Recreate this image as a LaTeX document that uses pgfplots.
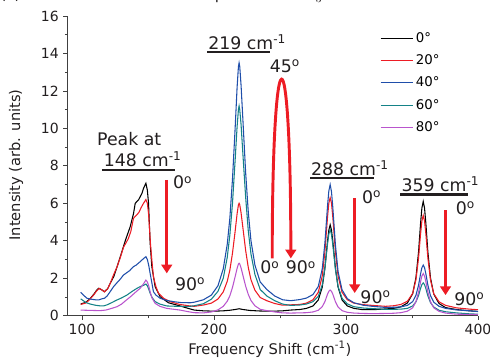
\documentclass[border=0pt]{standalone}
\usepackage{fontspec}
\setmainfont{DejaVu Sans}
\usepackage{pgfplots}
\pgfplotsset{compat=1.18}
\usetikzlibrary{arrows.meta}
\definecolor{cblue}{RGB}{31,78,170}
\definecolor{cteal}{RGB}{20,130,135}
\definecolor{cpurple}{RGB}{185,85,205}
\definecolor{cred}{RGB}{237,28,36}
\definecolor{axgray}{RGB}{64,64,64}
\definecolor{txt}{RGB}{35,31,32}

\begin{document}
\begin{tikzpicture}[
  redarr/.style={cred, line width=2.2pt, -{Triangle[length=6.5pt,width=8pt]}},
  ann/.style={font=\fontsize{13}{15}\selectfont, text=txt, inner sep=0pt},
  uline/.style={txt, line width=1.7pt}
]
\begin{axis}[
  name=ax,
  scale only axis, width=307.875pt, height=224.775pt,
  xmin=89, xmax=400, ymin=0, ymax=16,
  axis x line*=bottom, axis y line*=left,
  axis line style={axgray, line width=0.6pt},
  tick align=outside, major tick length=3pt, minor tick length=2pt,
  tick style={axgray, line width=0.6pt},
  xtick={100,200,300,400}, minor xtick={150,250,350},
  ytick={0,2,...,16}, minor ytick={1,3,...,15},
  tick label style={font=\fontsize{10.5}{12}\selectfont, text=txt},
  /pgf/number format/assume math mode=true,
  xlabel={Frequency Shift (cm\textsuperscript{-1})},
  ylabel={Intensity (arb. units)},
  label style={font=\fontsize{11}{13}\selectfont, text=txt},
  xlabel style={at={(axis description cs:0.493,-0.128)}, anchor=base},
  ylabel style={at={(axis description cs:-0.1255,0.503)}, anchor=center},
  clip=false,
  legend style={at={(0.761,0.955)}, anchor=north west, draw=none, fill=none,
    inner sep=0pt, row sep=3.8pt, font=\fontsize{10}{12}\selectfont},
  legend cell align=left,
  legend image code/.code={\draw[#1] (0pt,0pt) -- (24pt,0pt);},
  every axis plot/.append style={line width=0.8pt},
]
\addplot[black] coordinates {
(99,0.62) (103,0.72) (106,0.9) (109,1.15) (111,1.35) (112.6,1.46) (114.5,1.4) (117,1.28)
(119.5,1.45) (121.5,1.75) (124,2.08) (126.5,2.6) (129,3.15) (131,3.6) (133,4.05) (136.5,4.75)
(139,5.45) (140.3,6.0) (142.8,6.18) (145.4,6.53) (146.6,6.8) (148.4,7.07) (149.5,6.7) (150.4,6.0)
(151.6,3.9) (152.9,2.62) (155.4,1.55) (159.2,1.01) (165.5,0.69) (174.3,0.52) (180,0.4) (185,0.3)
(192,0.26) (200,0.24) (207,0.26) (212,0.29) (216,0.33) (219,0.37) (222,0.33) (227,0.28)
(235,0.25) (245,0.24) (252,0.26) (258,0.3) (265,0.33) (270,0.39) (275,0.52) (279,0.84)
(282,1.52) (284,2.53) (286,3.98) (287,4.57) (288,4.85) (289,4.57) (290,3.98) (292,2.53)
(294,1.52) (297,0.84) (301,0.52) (306,0.39) (313,0.32) (320,0.32) (330,0.36) (336,0.39)
(341.5,0.47) (346.5,0.68) (350.5,1.17) (353,2.04) (355,3.43) (356.5,4.94) (357.5,5.75) (358.5,6.1)
(359.5,5.75) (360.5,4.93) (362,3.42) (364,2.02) (366.5,1.15) (370.5,0.65) (375.5,0.43) (383.5,0.33)
(393.5,0.26) (400,0.23)};
\addlegendentry{0°}
\addplot[cred] coordinates {
(99,0.6) (103,0.68) (106,0.88) (109,1.12) (111,1.32) (113,1.46) (115,1.38) (117,1.27)
(119.5,1.45) (121.5,1.75) (124,2.2) (126.5,2.6) (129,3.1) (131.4,3.65) (133,3.85) (135,4.1)
(137,4.5) (139,5.2) (141,5.35) (143,5.5) (145,5.8) (146.6,6.0) (148.4,6.2) (149.5,6.0)
(150.4,5.45) (151.9,3.8) (153,2.9) (154.1,2.08) (156,1.55) (157.9,1.2) (162,0.92) (166.7,0.75)
(174,0.6) (181.9,0.52) (185,0.5) (192,0.57) (198,0.67) (203,0.89) (207,1.27) (210,1.83)
(212,2.43) (214,3.34) (216,4.5) (217.5,5.45) (218.5,5.92) (219,6.0) (219.5,5.92) (220.5,5.49)
(222,4.63) (224,3.47) (226,2.56) (228,1.92) (231,1.36) (235,0.97) (240,0.8) (246,0.65)
(252,0.56) (258,0.58) (265,0.6) (270,0.67) (275,0.85) (279,1.25) (282,2.12) (284,3.4)
(286,5.26) (287,6.01) (288,6.3) (289,6.01) (290,5.26) (292,3.4) (294,2.12) (297,1.25)
(301,0.85) (306,0.67) (313,0.59) (320,0.55) (330,0.5) (336,0.53) (341.5,0.6) (346.5,0.77)
(350.5,1.19) (353,1.92) (355,3.1) (356.5,4.37) (357.5,5.06) (358.5,5.35) (359.5,5.06) (360.5,4.37)
(362,3.1) (364,1.91) (366.5,1.17) (370.5,0.74) (375.5,0.55) (383.5,0.42) (393.5,0.35) (400,0.32)};
\addlegendentry{20°}
\addplot[cblue] coordinates {
(99,1.25) (101,1.1) (103.8,0.93) (107,0.88) (110,0.85) (112.6,0.84) (115,0.9) (117,0.93)
(119,1.05) (121,1.25) (123.9,1.55) (127,1.8) (129,1.95) (131.4,2.17) (134,2.3) (136,2.4)
(139,2.62) (141,2.7) (144,2.88) (146.6,3.05) (148.4,3.15) (149.5,3.0) (150.5,2.7) (151.6,2.26)
(152.8,1.8) (154.1,1.28) (156,1.1) (159.2,0.93) (164,0.82) (169.2,0.75) (175,0.7) (181.9,0.69)
(185,0.72) (192,0.85) (198,1.1) (203,1.6) (207,2.5) (210,3.8) (212,5.2) (214,7.3)
(216,10.0) (217.5,12.2) (218.5,13.3) (219,13.5) (219.5,13.3) (220.5,12.3) (222,10.3) (224,7.6)
(226,5.5) (228,4.0) (231,2.7) (235,1.8) (240,1.4) (246,1.05) (252,0.85) (258,0.8)
(265,0.86) (270,0.94) (275,1.13) (279,1.56) (282,2.5) (284,3.87) (286,5.86) (287,6.66)
(288,7.0) (289,6.62) (290,5.79) (292,3.76) (294,2.35) (297,1.38) (301,0.91) (306,0.69)
(313,0.56) (320,0.5) (330,0.44) (336,0.45) (341.5,0.47) (346.5,0.55) (350.5,0.75) (353,1.09)
(355,1.64) (356.5,2.24) (357.5,2.56) (358.5,2.7) (359.5,2.56) (360.5,2.24) (362,1.64) (364,1.07)
(366.5,0.72) (370.5,0.5) (375.5,0.39) (383.5,0.31) (393.5,0.26) (400,0.22)};
\addlegendentry{40°}
\addplot[cteal] coordinates {
(99,0.9) (101,0.8) (103,0.7) (106.3,0.62) (110,0.56) (113,0.53) (116.3,0.52) (119,0.58)
(122,0.68) (126.5,0.84) (130,0.95) (134,1.1) (138,1.3) (141.6,1.46) (144,1.55) (146.6,1.62)
(148.4,1.69) (149.5,1.6) (150.5,1.42) (151.6,1.2) (153,0.98) (155.4,0.75) (159,0.62) (164.2,0.52)
(172,0.5) (181.9,0.5) (185,0.53) (192,0.64) (198,0.88) (203,1.3) (207,2.0) (210,3.1)
(212,4.3) (214,6.0) (216,8.3) (217.5,10.1) (218.5,11.0) (219,11.2) (219.5,11.0) (220.5,10.2)
(222,8.5) (224,6.3) (226,4.5) (228,3.3) (231,2.2) (235,1.4) (240,1.05) (246,0.8)
(252,0.62) (258,0.55) (265,0.57) (270,0.62) (275,0.75) (279,1.03) (282,1.64) (284,2.53)
(286,3.83) (287,4.36) (288,4.6) (289,4.34) (290,3.79) (292,2.47) (294,1.56) (297,0.93)
(301,0.63) (306,0.48) (313,0.41) (320,0.38) (330,0.34) (336,0.34) (341.5,0.35) (346.5,0.39)
(350.5,0.52) (353,0.74) (355,1.08) (356.5,1.46) (357.5,1.66) (358.5,1.75) (359.5,1.66) (360.5,1.45)
(362,1.06) (364,0.7) (366.5,0.46) (370.5,0.29) (375.5,0.21) (383.5,0.15) (393.5,0.1) (400,0.08)};
\addlegendentry{60°}
\addplot[cpurple] coordinates {
(99,0.3) (103,0.29) (108,0.28) (113.8,0.27) (118,0.3) (122,0.38) (126.5,0.48) (130,0.62)
(133,0.8) (136.5,1.0) (140,1.22) (144,1.46) (146.6,1.7) (148.4,1.9) (149.5,1.8) (150.5,1.6)
(151.6,1.28) (153,0.95) (155.4,0.66) (159,0.5) (164.2,0.39) (174.3,0.3) (180,0.22) (185,0.16)
(192,0.15) (198,0.2) (203,0.31) (207,0.5) (210,0.77) (212,1.06) (214,1.51) (216,2.08)
(217.5,2.53) (218.5,2.76) (219,2.8) (219.5,2.76) (220.5,2.55) (222,2.13) (224,1.57) (226,1.13)
(228,0.81) (231,0.53) (235,0.34) (240,0.27) (246,0.2) (252,0.15) (258,0.14) (265,0.15)
(270,0.16) (275,0.2) (279,0.29) (282,0.48) (284,0.75) (286,1.15) (287,1.3) (288,1.37)
(289,1.3) (290,1.15) (292,0.74) (294,0.46) (297,0.27) (301,0.18) (306,0.14) (313,0.12)
(320,0.11) (330,0.12) (336,0.13) (341.5,0.16) (346.5,0.24) (350.5,0.42) (353,0.75) (355,1.26)
(356.5,1.82) (357.5,2.12) (358.5,2.25) (359.5,2.12) (360.5,1.82) (362,1.26) (364,0.75) (366.5,0.42)
(370.5,0.23) (375.5,0.14) (383.5,0.08) (393.5,0.07) (400,0.06)};
\addlegendentry{80°}

% 148 annotation
\node[ann, anchor=base west] at (axis cs:111.3,9.11) {Peak at};
\node[ann, anchor=base west] at (axis cs:116.3,7.97) {148 cm\textsuperscript{-1}};
\draw[uline] (axis cs:115.1,7.79) -- (axis cs:170.5,7.79);
\draw[redarr] (axis cs:164.2,7.25) -- (axis cs:164.2,2.26);
\node[ann] at (axis cs:176.2,7.11) {0\textsuperscript{o}};
\node[ann] at (axis cs:181.9,1.69) {90\textsuperscript{o}};
% 219 annotation
\node[ann, anchor=base west] at (axis cs:195.5,14.21) {219 cm\textsuperscript{-1}};
\draw[uline] (axis cs:194.9,14.09) -- (axis cs:242.3,14.09);
\node[ann] at (axis cs:253.7,13.3) {45\textsuperscript{o}};
\draw[redarr] (axis cs:244.1,3.06) .. controls (axis cs:244.1,15.75) and (axis cs:258.2,15.75) .. (axis cs:258.2,3.06);
\node[ann] at (axis cs:242.3,2.57) {0\textsuperscript{o}};
\node[ann] at (axis cs:265.8,2.57) {90\textsuperscript{o}};
% 288 annotation
\node[ann, anchor=base west] at (axis cs:273.3,7.5) {288 cm\textsuperscript{-1}};
\draw[uline] (axis cs:273.0,7.34) -- (axis cs:321.5,7.34);
\draw[redarr] (axis cs:306.6,6.28) -- (axis cs:306.6,1.21);
\node[ann] at (axis cs:319.4,6.33) {0\textsuperscript{o}};
\node[ann] at (axis cs:322.4,1.0) {90\textsuperscript{o}};
% 359 annotation
\node[ann, anchor=base west] at (axis cs:341.9,6.63) {359 cm\textsuperscript{-1}};
\draw[uline] (axis cs:341.1,6.47) -- (axis cs:392.2,6.47);
\draw[redarr] (axis cs:375.4,5.64) -- (axis cs:375.4,1.1);
\node[ann] at (axis cs:390.5,5.75) {0\textsuperscript{o}};
\node[ann] at (axis cs:393.5,0.89) {90\textsuperscript{o}};
\end{axis}
\node[anchor=base west, inner sep=0pt, font=\fontsize{11.5}{14}\selectfont, text=txt]
  at ([shift={(-50.625pt,237.0pt)}]ax.south west) {(c) Variation of the Raman spectra of WO$_3$};
\pgfresetboundingbox
\path[use as bounding box] ([shift={(-50.625pt,-32.475pt)}]ax.south west) rectangle ([shift={(316.875pt,236.775pt)}]ax.south west);
\end{tikzpicture}
\end{document}
